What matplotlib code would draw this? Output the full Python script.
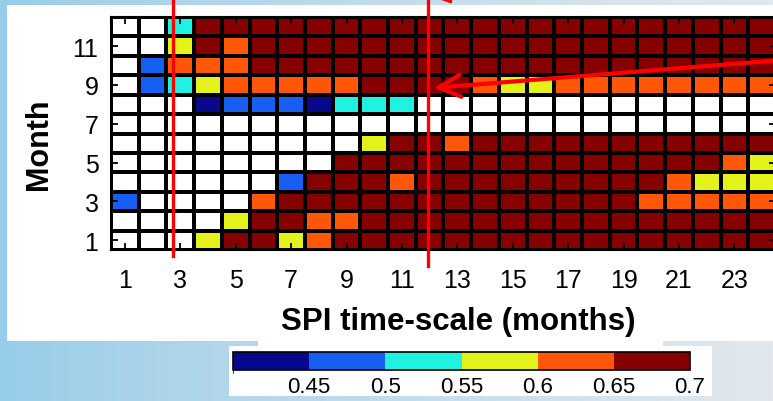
import matplotlib.pyplot as plt
import numpy as np
from matplotlib.colors import BoundaryNorm, ListedColormap
from matplotlib.patches import Rectangle

plt.rcParams['font.family'] = ['Liberation Sans', 'DejaVu Sans']

# class values (cell colour -> bin of the colour bar)
W = np.nan
NV, B, C, Y, O, R = 0.42, 0.47, 0.52, 0.57, 0.62, 0.68

months = np.arange(1, 13)
scales = np.arange(1, 25)

# rows: month 1..12, columns: SPI time-scale 1..24
corr = np.array([
    [W, W, W, Y, R, R, Y, O] + [R] * 16,
    [W, W, W, W, Y, R, R, O, O] + [R] * 15,
    [B, W, W, W, W, O] + [R] * 13 + [O] * 5,
    [W] * 6 + [B, R, R, R, O] + [R] * 9 + [O, Y, Y, Y],
    [W] * 8 + [R] * 14 + [O, Y],
    [W] * 9 + [Y, R, R, O] + [R] * 11,
    [W] * 24,
    [W, W, W, NV, B, B, B, NV, C, C, C] + [W] * 13,
    [W, B, C, Y, O, O, O, O, O, R, R, R, R, O, Y, Y] + [O] * 8,
    [W, B, O, O, O] + [R] * 19,
    [W, W, Y, R, O] + [R] * 19,
    [W, W, C] + [R] * 21,
])

levels = [0.4, 0.45, 0.5, 0.55, 0.6, 0.65, 0.7]
level_colors = ['#08088c', '#175ef2', '#1ff2e0', '#e4f21c', '#ff5608', '#870000']
xticks = list(range(1, 24, 2))
yticks = list(range(1, 12, 2))

# red annotation marks (data coords of the heatmap)
mark_x = [2.73, 11.95]
arrow_tip = (12.15, 8.85)
arrow_tail = (24.4, 10.25)

W_PX, H_PX = 773, 402
fig = plt.figure(figsize=(W_PX / 100, H_PX / 100), dpi=100)


def px_box(x0, y0, x1, y1):
    return [x0 / W_PX, 1 - y1 / H_PX, (x1 - x0) / W_PX, (y1 - y0) / H_PX]


# background: slide-like blue gradient with white panels
bg = fig.add_axes([0, 0, 1, 1])
grad = np.linspace(0, 1, 256)
left = np.array([150, 204, 233]) / 255
right = np.array([226, 232, 238]) / 255
img = left[None, :] * (1 - grad[:, None] ** 0.8) + right[None, :] * grad[:, None] ** 0.8
bg.imshow(img[None, :, :], extent=(0, W_PX, H_PX, 0), aspect='auto')
bg.add_patch(Rectangle((7, 6), W_PX, 336, color='white', lw=0))
bg.add_patch(Rectangle((258, 336), 405, 12, color='white', lw=0))
bg.add_patch(Rectangle((229, 347), 483, 50, color='white', lw=0))
bg.set_xlim(0, W_PX)
bg.set_ylim(H_PX, 0)
bg.axis('off')

ax = fig.add_axes(px_box(111, 18, 776, 251))
cmap = ListedColormap(level_colors)
cmap.set_bad('white')
norm = BoundaryNorm(levels, cmap.N)
ax.pcolormesh(np.arange(0.5, 25), np.arange(0.5, 13), np.ma.masked_invalid(corr),
              cmap=cmap, norm=norm, edgecolors='black', linewidth=1.7)
ax.set_xlim(0.5, 24.5)
ax.set_ylim(0.5, 12.5)
ax.set_xticks(xticks)
ax.set_yticks(yticks)
ax.tick_params(direction='in', length=5, width=1.3, top=True, right=True,
               labelsize=18, colors='black')
ax.tick_params(axis='x', pad=13)
ax.tick_params(axis='y', pad=9)
for s in ax.spines.values():
    s.set_linewidth(1.5)

fig.text(39 / W_PX, 1 - 144 / H_PX, 'Month', rotation=90, ha='center', va='center',
         fontsize=22, fontweight='bold')
fig.text(458 / W_PX, 1 - 322 / H_PX, 'SPI time-scale (months)', ha='center', va='center',
         fontsize=22.5, fontweight='bold')

cax = fig.add_axes(px_box(233, 353, 690, 371))
cb = fig.colorbar(plt.cm.ScalarMappable(norm=norm, cmap=cmap), cax=cax,
                  orientation='horizontal', ticks=levels[1:])
cb.ax.set_xticklabels([f'{v:g}' for v in levels[1:]])
cb.ax.tick_params(length=0, labelsize=16, pad=4)
cb.outline.set_linewidth(1.2)

# red overlay marks drawn in heatmap data coordinates, outside the clip box
for mx, y_low in zip(mark_x, [0.19, -0.3]):
    ax.plot([mx, mx], [y_low, 13.5], color='red', lw=2.4, clip_on=False, zorder=10)
ax.annotate('', xy=arrow_tip, xytext=arrow_tail, xycoords='data',
            arrowprops=dict(arrowstyle='->,head_length=0.8,head_width=0.4',
                            color='red', lw=3, mutation_scale=20, shrinkA=0, shrinkB=0),
            annotation_clip=False, zorder=10)
ax.plot([12.45, 12.75], [13.45, 13.3], color='red', lw=2.4, clip_on=False, zorder=10)

fig.savefig('out.png', dpi=100)
